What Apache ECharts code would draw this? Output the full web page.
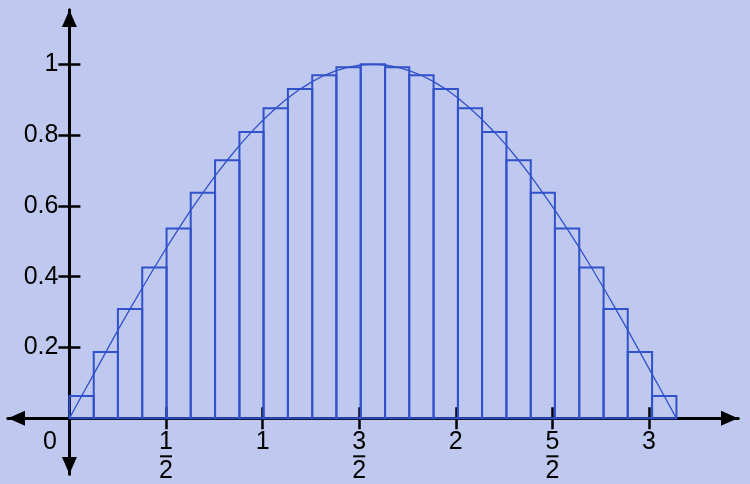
<!DOCTYPE html>
<html><head><meta charset="utf-8">
<script src="https://cdn.jsdelivr.net/npm/echarts@6/dist/echarts.min.js"></script>
<style>html,body{margin:0;padding:0;background:#BFC8EE;}#c{width:750px;height:484px;}</style>
</head><body><div id="c"></div>
<script>
// ---- data ----
const barEdges = [0, 0.126, 0.251, 0.377, 0.503, 0.628, 0.754, 0.880, 1.005, 1.131, 1.257, 1.382, 1.508,
  1.634, 1.759, 1.885, 2.011, 2.136, 2.262, 2.388, 2.513, 2.639, 2.765, 2.890, 3.016, 3.142];
const barHeights = [0.063, 0.187, 0.309, 0.426, 0.536, 0.637, 0.729, 0.809, 0.876, 0.930, 0.969, 0.992, 1.000,
  0.992, 0.969, 0.930, 0.876, 0.809, 0.729, 0.637, 0.536, 0.426, 0.309, 0.187, 0.063];
const curveEdgeY = [0, 0.125, 0.249, 0.368, 0.482, 0.588, 0.685, 0.771, 0.844, 0.905, 0.951, 0.982, 0.998,
  0.998, 0.982, 0.951, 0.905, 0.844, 0.771, 0.685, 0.588, 0.482, 0.368, 0.249, 0.125, 0];
const xTickValues = [0.5, 1, 1.5, 2, 2.5, 3];
const xLabelValues = [0, 0.5, 1, 1.5, 2, 2.5, 3];
const xLabelNum = ['0', '1', '1', '3', '2', '5', '3'];
const xLabelDen = ['', '2', '', '2', '', '2', ''];
const yTickValues = [0.2, 0.4, 0.6, 0.8, 1];
const yLabels = ['0.2', '0.4', '0.6', '0.8', '1'];

// ---- build ----
const barData = barHeights.map((h, i) => [barEdges[i], barEdges[i + 1], h]);
const curveData = [];
for (let i = 0; i < barEdges.length; i++) {
  curveData.push([barEdges[i], curveEdgeY[i]]);
  if (i < barHeights.length) curveData.push([(barEdges[i] + barEdges[i + 1]) / 2, barHeights[i]]);
}
const BLUE = '#3152CA';
const FONT = 'Liberation Sans, Arial, sans-serif';
const XMIN = -0.3178, XMAX = 3.4607, YMIN = -0.1573, YMAX = 1.1534;
const G = {left: 8, right: 12, top: 10, bottom: 10};
const W = 750, H = 484;
const gw = W - G.left - G.right, gh = H - G.top - G.bottom;
// pixel position of the zero lines inside the grid
const zeroX = G.left + (0 - XMIN) / (XMAX - XMIN) * gw;
const zeroY = G.top + (YMAX - 0) / (YMAX - YMIN) * gh;

function xFmt(v) {
  const i = xLabelValues.findIndex(t => Math.abs(t - v) < 1e-6);
  if (i < 0) return '';
  if (xLabelNum[i] === '0') return '{z|0}';
  if (xLabelDen[i]) return '{n|' + xLabelNum[i] + '}\n{b| }\n{n|' + xLabelDen[i] + '}';
  return '{n|' + xLabelNum[i] + '}';
}
function yFmt(v) {
  const i = yTickValues.findIndex(t => Math.abs(t - v) < 1e-6);
  return i < 0 ? '' : yLabels[i];
}

const chart = echarts.init(document.getElementById('c'), null, {renderer: 'canvas'});
const axisLineStyle = {color: '#000', width: 3};
const tickStyle = {color: '#000', width: 2.5};
chart.setOption({
  animation: false,
  backgroundColor: '#BFC8EE',
  grid: {left: G.left, right: G.right, top: G.top, bottom: G.bottom, containLabel: false, outerBoundsMode: 'none'},
  xAxis: [{
    type: 'value', min: XMIN, max: XMAX, position: 'bottom', offset: -(H - G.bottom - zeroY),
    axisLine: {show: true, onZero: false, lineStyle: axisLineStyle, symbol: ['triangle', 'triangle'], symbolSize: [15, 17], symbolOffset: [8.5, -8.5]},
    axisTick: {show: true, length: 11, customValues: xTickValues, lineStyle: tickStyle},
    axisLabel: {show: true, customValues: xLabelValues, margin: 11, formatter: xFmt, color: '#000',
      rich: {
        n: {fontFamily: FONT, fontSize: 25, lineHeight: 25, color: '#000', align: 'center'},
        z: {fontFamily: FONT, fontSize: 25, lineHeight: 25, color: '#000', padding: [0, 39, 0, 0]},
        b: {fontSize: 2, lineHeight: 4, height: 2, width: 12, backgroundColor: '#000'}
      }},
    splitLine: {show: false}
  }, {
    type: 'value', min: XMIN, max: XMAX, position: 'top', offset: -(zeroY - G.top),
    axisLine: {show: true, onZero: false, lineStyle: axisLineStyle},
    axisTick: {show: true, length: 11, customValues: xTickValues, lineStyle: tickStyle},
    axisLabel: {show: false},
    splitLine: {show: false}
  }],
  yAxis: [{
    type: 'value', min: YMIN, max: YMAX, position: 'left', offset: -(zeroX - G.left),
    axisLine: {show: true, onZero: false, lineStyle: axisLineStyle, symbol: ['triangle', 'triangle'], symbolSize: [15, 17], symbolOffset: [8.5, -8.5]},
    axisTick: {show: true, length: 11, customValues: yTickValues, lineStyle: tickStyle},
    axisLabel: {show: true, customValues: yTickValues, margin: 11, formatter: yFmt, color: '#000', fontFamily: FONT, fontSize: 25},
    splitLine: {show: false}
  }, {
    type: 'value', min: YMIN, max: YMAX, position: 'right', offset: -(W - G.right - zeroX),
    axisLine: {show: true, onZero: false, lineStyle: axisLineStyle},
    axisTick: {show: true, length: 11, customValues: yTickValues, lineStyle: tickStyle},
    axisLabel: {show: false},
    splitLine: {show: false}
  }],
  series: [{
    type: 'custom',
    xAxisIndex: 0, yAxisIndex: 0,
    data: barData,
    encode: {x: [0, 1], y: 2},
    z: 1,
    renderItem: function (params, api) {
      const p0 = api.coord([api.value(0), api.value(2)]);
      const p1 = api.coord([api.value(1), 0]);
      return {type: 'rect', shape: {x: p0[0], y: p0[1], width: p1[0] - p0[0], height: p1[1] - p0[1]},
        style: {fill: 'none', stroke: BLUE, lineWidth: 2}};
    }
  }, {
    type: 'line',
    xAxisIndex: 0, yAxisIndex: 0,
    data: curveData,
    showSymbol: false, symbol: 'none', smooth: false,
    lineStyle: {color: BLUE, width: 1.3},
    z: 2
  }]
});
</script></body></html>
